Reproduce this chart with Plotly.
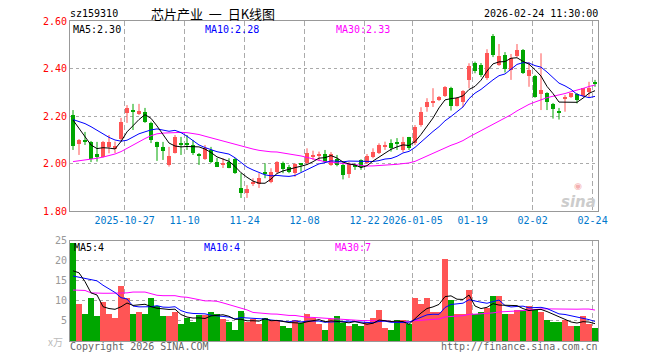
import plotly.graph_objects as go

# ---------------- data ----------------
opens = [2.204,2.082,2.097,2.092,2.040,2.027,2.071,2.061,2.103,2.213,
 2.223,2.208,2.217,2.169,2.092,2.071,1.994,2.044,2.083,2.082,
 2.078,2.037,2.021,2.057,2.008,1.992,2.006,2.018,1.896,1.876,
 1.914,1.914,1.960,1.923,1.965,2.003,1.984,1.961,1.999,2.001,
 2.030,2.030,2.040,1.994,2.017,1.994,1.956,1.990,2.013,2.001,
 2.027,2.045,2.070,2.085,2.087,2.057,2.110,2.085,2.162,2.236,
 2.255,2.267,2.284,2.317,2.242,2.260,2.352,2.422,2.415,2.359,
 2.537,2.415,2.457,2.394,2.453,2.478,2.368,2.368,2.293,2.296,
 2.251,2.218,2.272,2.279,2.293,2.284,2.302,2.339]
highs = [2.225,2.103,2.133,2.095,2.091,2.095,2.120,2.092,2.192,2.246,
 2.251,2.251,2.234,2.176,2.092,2.091,2.070,2.120,2.112,2.120,
 2.099,2.044,2.078,2.070,2.023,2.022,2.022,2.023,1.959,1.909,
 1.938,1.959,2.001,1.980,2.010,2.008,1.994,2.001,2.001,2.064,
 2.054,2.050,2.057,2.048,2.036,2.006,2.006,2.001,2.018,2.040,
 2.064,2.085,2.092,2.102,2.107,2.112,2.112,2.162,2.237,2.275,
 2.317,2.284,2.326,2.323,2.280,2.309,2.422,2.429,2.423,2.481,
 2.545,2.503,2.469,2.461,2.503,2.482,2.427,2.373,2.464,2.300,
 2.255,2.234,2.288,2.297,2.297,2.318,2.344,2.352]
lows = [2.057,2.036,2.078,2.006,2.008,2.025,2.043,2.044,2.095,2.171,
 2.141,2.204,2.171,2.086,2.011,2.015,1.987,2.042,2.036,2.057,
 2.036,1.994,2.015,2.002,1.985,1.981,1.980,1.956,1.855,1.855,
 1.905,1.897,1.938,1.917,1.959,1.959,1.959,1.944,1.965,1.994,
 2.015,2.010,2.002,1.990,1.988,1.933,1.939,1.973,1.973,1.998,
 2.022,2.040,2.057,2.050,2.057,2.048,2.057,2.078,2.155,2.218,
 2.238,2.263,2.280,2.223,2.240,2.237,2.317,2.380,2.364,2.352,
 2.448,2.411,2.383,2.352,2.448,2.377,2.323,2.277,2.225,2.225,
 2.189,2.185,2.218,2.276,2.253,2.280,2.280,2.323]
closes = [2.074,2.099,2.093,2.019,2.029,2.092,2.092,2.074,2.176,2.232,
 2.221,2.223,2.176,2.099,2.071,2.053,2.032,2.113,2.081,2.079,
 2.043,2.034,2.067,2.008,1.987,2.003,1.981,1.959,1.876,1.891,
 1.922,1.938,1.957,1.965,2.008,1.976,1.965,1.998,1.996,2.043,
 2.036,2.040,2.008,2.040,1.992,1.952,1.998,1.987,1.985,2.032,
 2.050,2.078,2.074,2.064,2.084,2.092,2.064,2.155,2.217,2.259,
 2.262,2.278,2.323,2.244,2.275,2.305,2.411,2.389,2.373,2.467,
 2.457,2.453,2.396,2.443,2.478,2.380,2.394,2.280,2.309,2.260,
 2.229,2.215,2.281,2.296,2.267,2.317,2.317,2.336]
volumes = [24.5,9.2,6.7,10.75,6.2,9.9,6.9,5.75,13.9,10.9,
 6.9,7.2,6.9,10.9,8.9,6.2,6.4,7.25,4.2,5.85,
 4.9,6.6,6.5,7.4,6.7,5.5,4.7,2.7,7.5,4.75,
 5.6,4.2,5.7,5.0,5.2,3.9,3.2,5.4,4.5,6.9,
 5.7,4.2,2.7,5.6,6.2,4.5,3.7,4.2,3.7,4.8,
 5.7,7.7,3.4,2.7,5.2,5.2,4.3,10.7,9.4,10.9,
 7.2,7.4,20.4,10.4,6.7,6.9,12.9,6.7,7.2,8.3,
 11.4,11.2,6.7,6.9,7.9,7.7,8.7,7.7,7.4,5.2,
 4.7,4.7,5.2,3.9,3.9,6.4,4.2,3.2]

# moving-average values before enough visible history exists
ma5_head = [2.183, 2.148, 2.113, 2.078]
ma10_head = [2.185, 2.176, 2.168, 2.155, 2.140, 2.125, 2.110, 2.099, 2.094]
ma30_head = [2.008,2.011,2.015,2.018,2.022,2.027,2.033,2.040,2.050,2.064,
 2.080,2.092,2.105,2.117,2.125,2.128,2.130,2.131,2.131,2.130,
 2.127,2.122,2.115,2.108,2.100,2.093,2.086,2.080,2.074]
vma5_head = [17.5, 17.0, 14.8, 12.0]
vma10_head = [16.2, 15.9, 15.6, 15.2, 15.0, 13.9, 13.1, 12.1, 10.8]
vma30_head = [12.7,12.7,12.6,12.0,11.9,11.9,11.9,11.9,11.9,12.0,
 12.2,12.2,12.2,11.8,11.4,11.3,11.3,11.3,11.0,10.9,
 10.6,10.3,10.0,10.0,9.9,9.5,9.1,8.7,8.3]

tick_index = [9, 19, 29, 39, 49, 57, 67, 77, 87]
tick_labels = ["2025-10-27", "11-10", "11-24", "12-08", "12-22",
               "2026-01-05", "01-19", "02-02", "02-24"]

price_ticks = [1.80, 2.00, 2.20, 2.40, 2.60]
vol_ticks = [5, 10, 15, 20, 25]

# ---------------- helpers ----------------
def moving_avg(vals, n, head):
    out = list(head)
    for i in range(len(head), len(vals)):
        out.append(sum(vals[i - n + 1:i + 1]) / n)
    return out

RED = "#FF5555"
GREEN = "#00A600"
MONO = "DejaVu Sans Mono"
CJK = "Noto Sans CJK SC"

n = len(closes)
idx = list(range(n))
up = [i for i in idx if closes[i] >= opens[i]]
dn = [i for i in idx if closes[i] < opens[i]]

fig = go.Figure()

def wick_trace(ids, color):
    xs, ys = [], []
    for i in ids:
        xs += [i, i, None]
        ys += [lows[i], highs[i], None]
    return go.Scatter(x=xs, y=ys, mode="lines", line=dict(color=color, width=1),
                      xaxis="x", yaxis="y", hoverinfo="skip", showlegend=False)

def body_trace(ids, color):
    base = [min(opens[i], closes[i]) for i in ids]
    h = [max(abs(closes[i] - opens[i]), 0.004) for i in ids]
    return go.Bar(x=ids, y=h, base=base, width=0.8, marker=dict(color=color, line=dict(width=0)),
                  xaxis="x", yaxis="y", hoverinfo="skip", showlegend=False)

fig.add_trace(wick_trace(up, RED))
fig.add_trace(wick_trace(dn, GREEN))
fig.add_trace(body_trace(up, RED))
fig.add_trace(body_trace(dn, GREEN))

for vals, color in [(moving_avg(closes, 30, ma30_head), "#FF00FF"),
                    (moving_avg(closes, 10, ma10_head), "#0000FF"),
                    (moving_avg(closes, 5, ma5_head), "#000000")]:
    fig.add_trace(go.Scatter(x=idx, y=vals, mode="lines", line=dict(color=color, width=1),
                             xaxis="x", yaxis="y", hoverinfo="skip", showlegend=False))

# volume
vcol = [RED if closes[i] >= opens[i] else GREEN for i in idx]
fig.add_trace(go.Bar(x=idx, y=volumes, width=0.84, marker=dict(color=vcol, line=dict(width=0)),
                     xaxis="x2", yaxis="y2", hoverinfo="skip", showlegend=False))
for vals, color in [(moving_avg(volumes, 30, vma30_head), "#FF00FF"),
                    (moving_avg(volumes, 10, vma10_head), "#0000FF"),
                    (moving_avg(volumes, 5, vma5_head), "#000000")]:
    fig.add_trace(go.Scatter(x=idx, y=vals, mode="lines", line=dict(color=color, width=1),
                             xaxis="x2", yaxis="y2", hoverinfo="skip", showlegend=False))

grid_v = "#AAAAAA"
border = "#999999"
tickpos = [t - 0.4 for t in tick_index]

fig.update_layout(
    width=660, height=360,
    margin=dict(l=70, r=62, t=21, b=19, autoexpand=False),
    paper_bgcolor="white", plot_bgcolor="white",
    barmode="overlay", bargap=0,
    showlegend=False,
    xaxis=dict(domain=[0, 1], anchor="y", range=[-0.5, n - 0.5], automargin=False,
               tickmode="array", tickvals=tickpos, ticktext=tick_labels,
               tickfont=dict(family=MONO, size=10, color="#0077CC"),
               ticks="", showgrid=True, gridcolor=grid_v, griddash="5px,3px", gridwidth=1,
               showline=True, mirror=True, linecolor=border, linewidth=1, zeroline=False),
    yaxis=dict(domain=[0.40625, 1], anchor="x", range=[1.80, 2.60], automargin=False,
               tickmode="array", tickvals=price_ticks, ticktext=["%.2f" % v for v in price_ticks],
               tickfont=dict(family=MONO, size=10, color="#FF0000"),
               ticks="", showgrid=True, gridcolor=grid_v, griddash="dot", gridwidth=1,
               showline=True, mirror=True, linecolor=border, linewidth=1, zeroline=False),
    xaxis2=dict(domain=[0, 1], anchor="y2", range=[-0.5, n - 0.5], matches="x", automargin=False,
                tickmode="array", tickvals=tickpos, showticklabels=False,
                ticks="", showgrid=True, gridcolor=grid_v, griddash="5px,3px", gridwidth=1,
                showline=True, mirror=True, linecolor=border, linewidth=1, zeroline=False),
    yaxis2=dict(domain=[0, 0.3134], anchor="x2", range=[0, 25], automargin=False,
                tickmode="array", tickvals=vol_ticks, ticktext=[str(v) for v in vol_ticks],
                tickfont=dict(family=MONO, size=10, color="#999999"),
                ticks="", showgrid=True, gridcolor=grid_v, griddash="dot", gridwidth=1,
                showline=True, mirror=True, linecolor=border, linewidth=1, zeroline=False),
)

def px_x(px):
    return (px - 70) / 528.0

def px_y(py):
    return (341 - py) / 320.0

def note(text, x, y, color="#000000", size=10, family=MONO, xanchor="left", **kw):
    fig.add_annotation(text=text, x=px_x(x), y=px_y(y), xref="paper", yref="paper",
                       xanchor=xanchor, yanchor="middle", showarrow=False, borderpad=0,
                       font=dict(family=family, size=size, color=color), **kw)

note("sz159310", 69, 13)
note("芯片产业\u00a0\u00a0一\u00a0\u00a0日K线图", 150, 13, size=13, family=CJK)
note("2026-02-24 11:30:00", 599, 13, xanchor="right")
note("MA5:2.30", 72, 29)
note("MA10:2.28", 204, 29, color="#0000FF")
note("MA30:2.33", 335, 29, color="#FF00FF")
note("MA5:4", 73, 247)
note("MA10:4", 203, 247, color="#0000FF")
note("MA30:7", 334, 247, color="#FF00FF")
note("Copyright 2026 SINA.COM", 69, 346, color="#666666")
note("http://finance.sina.com.cn", 599, 346, color="#666666", xanchor="right")
note("x万", 64, 341, color="#BBBBBB", size=10, family=CJK, xanchor="right")
note("<b><i>sina</i></b>", 597, 202, color="#CCCCCC", size=15, family="DejaVu Sans", xanchor="right")
note("◉", 578, 186, color="#F4B0B0", size=9, family="DejaVu Sans", xanchor="center")

fig.write_html("out.html", config={"displayModeBar": False},
               post_script="document.body.style.margin='0';document.body.style.padding='0';")
